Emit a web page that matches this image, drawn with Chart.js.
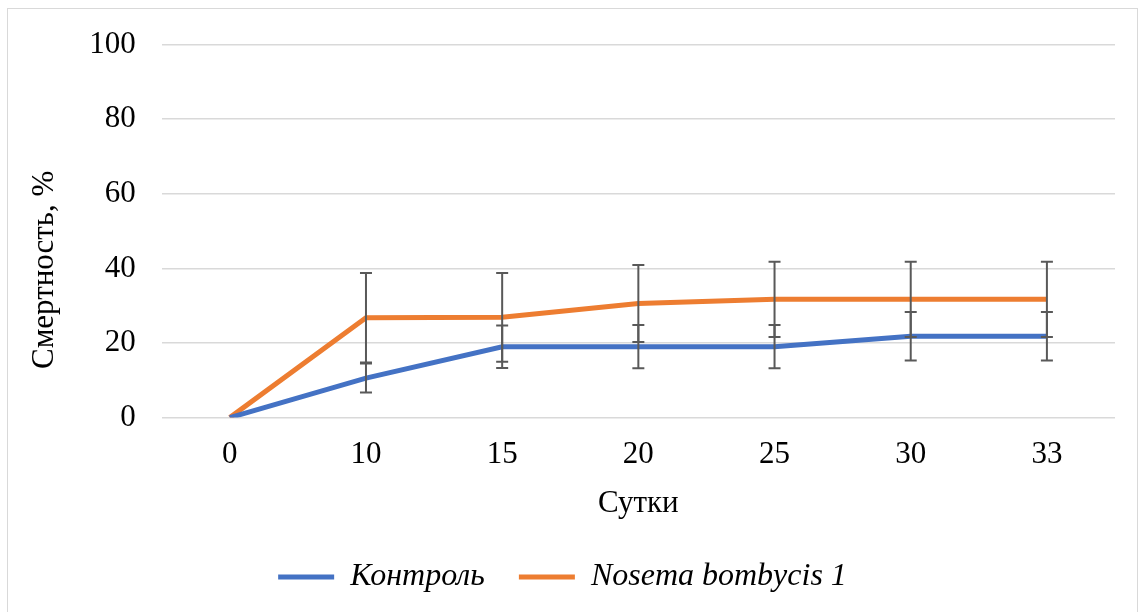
<!DOCTYPE html>
<html>
<head>
<meta charset="utf-8">
<script src="https://cdn.jsdelivr.net/npm/chart.js@4"></script>
<style>
  body { margin: 0; background: #fff; }
  #wrap { position: relative; width: 1144px; height: 612px; }
  #frame { position: absolute; left: 7px; top: 8px; width: 1131px; height: 620px; border: 1px solid #d9d9d9; box-sizing: border-box; pointer-events: none; }
</style>
</head>
<body>
<div id="wrap">
  <canvas id="chart" width="1144" height="612"></canvas>
  <div id="frame"></div>
</div>
<script>
const days = ['0', '10', '15', '20', '25', '30', '33'];
const control = [0, 10.6, 19, 19, 19, 21.8, 21.8];
const controlErr = [0, 3.9, 5.7, 5.8, 5.8, 6.5, 6.5];
const nosema = [0, 26.8, 26.9, 30.6, 31.7, 31.7, 31.7];
const nosemaErr = [0, 12, 11.9, 10.3, 10.1, 10.1, 10.1];

const serif = "'Liberation Serif', 'Times New Roman', serif";

// error bars drawn over the lines, Excel style
const errorBars = {
    id: 'errorBars',
    afterDatasetsDraw(chart) {
        const ctx = chart.ctx;
        const x = chart.scales.x, y = chart.scales.y;
        const sets = [[control, controlErr], [nosema, nosemaErr]];
        ctx.save();
        ctx.strokeStyle = '#595959';
        ctx.lineWidth = 2;
        sets.forEach(([vals, errs]) => {
            vals.forEach((v, i) => {
                if (!errs[i]) return;
                const px = x.getPixelForValue(i);
                const top = y.getPixelForValue(v + errs[i]);
                const bot = y.getPixelForValue(v - errs[i]);
                ctx.beginPath();
                ctx.moveTo(px, top); ctx.lineTo(px, bot);
                ctx.moveTo(px - 6, top); ctx.lineTo(px + 6, top);
                ctx.moveTo(px - 6, bot); ctx.lineTo(px + 6, bot);
                ctx.stroke();
            });
        });
        ctx.restore();
    }
};

new Chart(document.getElementById('chart'), {
    type: 'line',
    data: {
        labels: days,
        datasets: [
            { label: 'Контроль', data: control, borderColor: '#4472C4', backgroundColor: '#4472C4', borderWidth: 5, pointRadius: 0, tension: 0 },
            { label: 'Nosema bombycis 1', data: nosema, borderColor: '#ED7D31', backgroundColor: '#ED7D31', borderWidth: 5, pointRadius: 0, tension: 0 }
        ]
    },
    options: {
        responsive: false,
        animation: false,
        layout: { padding: { left: 10, right: 29, top: 2, bottom: 9 } },
        scales: {
            x: {
                offset: true,
                grid: { display: false },
                border: { display: false },
                ticks: { color: '#000', font: { family: serif, size: 31 }, padding: 11 },
                title: { display: true, text: 'Сутки', color: '#000', font: { family: serif, size: 31 }, padding: { top: 0, bottom: 5 } }
            },
            y: {
                min: 0, max: 100,
                grid: { color: '#d9d9d9', lineWidth: 1.5, drawTicks: false },
                border: { display: false },
                ticks: { stepSize: 20, color: '#000', font: { family: serif, size: 31 }, padding: 26 },
                title: {
                    display: true,
                    text: 'Смертность, %' + '\u00a0'.repeat(10),
                    color: '#000',
                    font: { family: serif, size: 31 },
                    padding: { top: 16, bottom: 0 }
                }
            }
        },
        plugins: {
            legend: {
                position: 'bottom',
                labels: {
                    color: '#000',
                    font: { family: serif, size: 32, style: 'italic' },
                    usePointStyle: true,
                    pointStyle: 'line',
                    pointStyleWidth: 56,
                    boxHeight: 5,
                    padding: 34
                }
            },
            tooltip: { enabled: false }
        }
    },
    plugins: [errorBars]
});
</script>
</body>
</html>
